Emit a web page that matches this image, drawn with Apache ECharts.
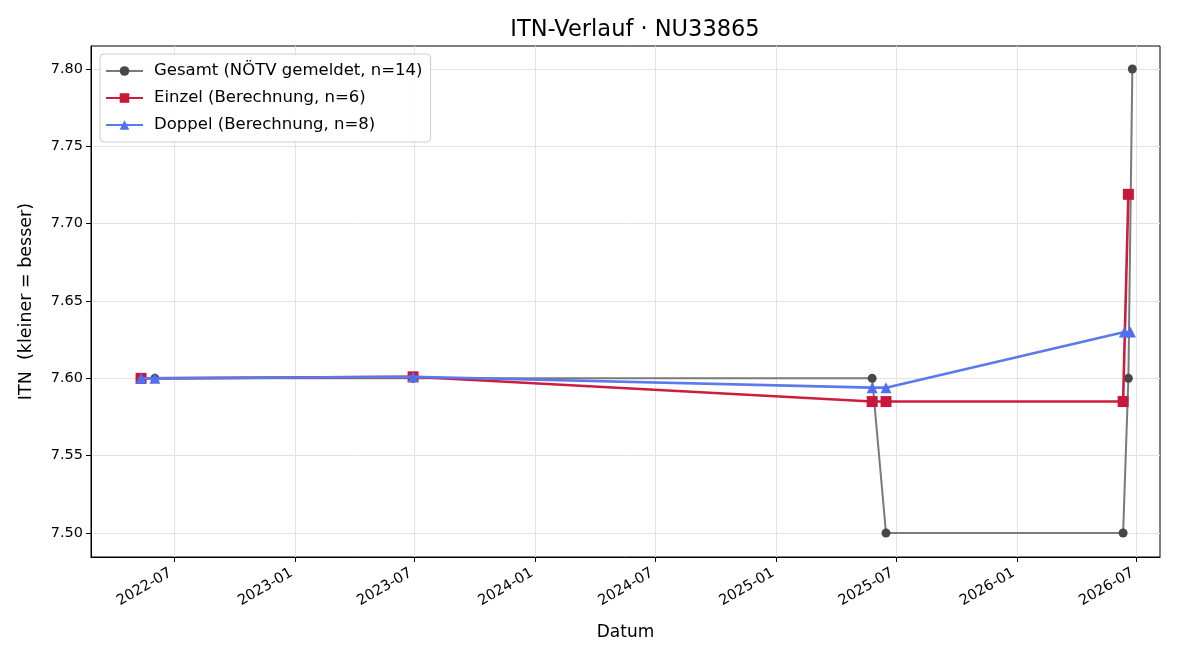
<!DOCTYPE html>
<html>
<head>
<meta charset="utf-8">
<script src="https://cdn.jsdelivr.net/npm/echarts@6/dist/echarts.min.js"></script>
<style>
  html, body { margin: 0; padding: 0; background: #fff; }
  #chart { width: 1200px; height: 660px; }
</style>
</head>
<body>
<div id="chart"></div>
<script>
const gesamtDates = ['2022-05-12', '2022-06-02', '2023-06-29', '2025-05-26', '2025-06-16', '2026-06-11', '2026-06-19', '2026-06-25'];
const gesamtValues = [7.60, 7.60, 7.60, 7.60, 7.50, 7.50, 7.60, 7.80];

const einzelDates = ['2022-05-12', '2023-06-29', '2025-05-26', '2025-06-16', '2026-06-11', '2026-06-19'];
const einzelValues = [7.600, 7.601, 7.585, 7.585, 7.585, 7.719];

const doppelDates = ['2022-05-12', '2022-06-02', '2023-06-29', '2025-05-26', '2025-06-16', '2026-06-13', '2026-06-22'];
const doppelValues = [7.600, 7.600, 7.601, 7.594, 7.594, 7.630, 7.630];

const xTicks = ['2022-07-01', '2023-01-01', '2023-07-01', '2024-01-01', '2024-07-01', '2025-01-01', '2025-07-01', '2026-01-01', '2026-07-01'];
const yTicks = [7.50, 7.55, 7.60, 7.65, 7.70, 7.75, 7.80];

// dates -> timestamps, drawn on a plain value axis
const ts = (d) => new Date(d + 'T00:00:00Z').getTime();
const pairs = (dates, vals) => dates.map((d, i) => [ts(d), vals[i]]);
const xTickTs = xTicks.map(ts);

const font = 'DejaVu Sans';

let chart = echarts.init(document.getElementById('chart'));
let option = {
  backgroundColor: '#fff',
  animation: false,
  textStyle: { fontFamily: font },
  title: {
    text: 'ITN-Verlauf · NU33865',
    left: 630,
    textAlign: 'center',
    top: 14,
    textStyle: { fontFamily: font, fontSize: 22.5, fontWeight: 'normal', color: '#000' }
  },
  grid: {
    left: 91, right: 40, top: 46, bottom: 103,
    show: true, borderColor: '#000', borderWidth: 1, backgroundColor: 'transparent'
  },
  legend: {
    orient: 'vertical',
    left: 100, top: 54,
    backgroundColor: 'rgba(255,255,255,0.9)',
    borderColor: '#ccc', borderWidth: 1, borderRadius: 4,
    padding: [8, 8, 8, 5],
    itemGap: 9,
    itemWidth: 37, itemHeight: 12,
    textStyle: { fontFamily: font, fontSize: 16.5, lineHeight: 18, color: '#000', padding: [0, 0, 0, 6] },
    data: ['Gesamt (NÖTV gemeldet, n=14)', 'Einzel (Berechnung, n=6)', 'Doppel (Berechnung, n=8)']
  },
  xAxis: {
    type: 'value',
    min: ts('2022-02-25'),
    max: ts('2026-08-06'),
    name: 'Datum',
    nameLocation: 'middle',
    nameGap: 67,
    nameTextStyle: { fontFamily: font, fontSize: 17, color: '#000' },
    axisLine: { show: true, lineStyle: { color: '#000' } },
    axisTick: { show: true, length: 5, lineStyle: { color: '#000' }, customValues: xTickTs },
    axisLabel: {
      customValues: xTickTs,
      rotate: 30,
      fontSize: 14.5,
      color: '#000',
      margin: 13,
      padding: [0, 4, 0, 0],
      formatter: (v) => {
        const d = new Date(v);
        return d.getUTCFullYear() + '-' + String(d.getUTCMonth() + 1).padStart(2, '0');
      }
    },
    splitLine: { show: true, lineStyle: { color: '#e2e2e2', width: 1 } }
  },
  yAxis: {
    type: 'value',
    min: 7.4845,
    max: 7.8149,
    name: 'ITN  (kleiner = besser)',
    nameLocation: 'middle',
    nameGap: 56,
    nameTextStyle: { fontFamily: font, fontSize: 17.5, color: '#000' },
    axisLine: { show: true, lineStyle: { color: '#000' } },
    axisTick: { show: true, length: 5, lineStyle: { color: '#000' }, customValues: yTicks },
    axisLabel: {
      customValues: yTicks,
      fontSize: 14.5,
      color: '#000',
      margin: 8,
      formatter: (v) => v.toFixed(2)
    },
    splitLine: { show: true, lineStyle: { color: '#e2e2e2', width: 1 } }
  },
  series: [
    {
      name: 'Gesamt (NÖTV gemeldet, n=14)',
      type: 'line',
      data: pairs(gesamtDates, gesamtValues),
      symbol: 'circle',
      symbolSize: 9,
      lineStyle: { color: '#7a7a7a', width: 2 },
      itemStyle: { color: '#474747' },
      z: 2
    },
    {
      name: 'Einzel (Berechnung, n=6)',
      type: 'line',
      data: pairs(einzelDates, einzelValues),
      symbol: 'rect',
      symbolSize: 11,
      lineStyle: { color: '#cc1d3c', width: 2.6 },
      itemStyle: { color: '#c8183a' },
      z: 3
    },
    {
      name: 'Doppel (Berechnung, n=8)',
      type: 'line',
      data: pairs(doppelDates, doppelValues),
      symbol: 'triangle',
      symbolSize: 11,
      lineStyle: { color: '#5a79ec', width: 2.6 },
      itemStyle: { color: '#4f6ff0' },
      z: 4
    }
  ]
};
option && chart.setOption(option);
</script>
</body>
</html>
